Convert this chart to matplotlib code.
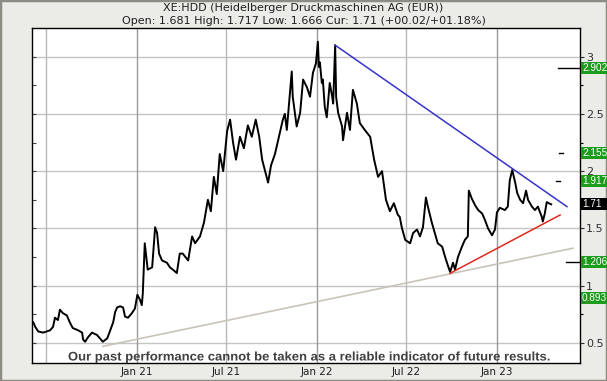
import matplotlib
matplotlib.use("Agg")
import matplotlib.pyplot as plt
from matplotlib.patches import Rectangle, PathPatch
from matplotlib.textpath import TextPath
from matplotlib.font_manager import FontProperties
from matplotlib.transforms import blended_transform_factory, Affine2D
import pandas as pd

# daily price trace
dates = [
    "2020-06-05", "2020-06-09", "2020-06-15", "2020-06-25", "2020-07-09", "2020-07-15",
    "2020-07-19", "2020-07-25", "2020-07-29", "2020-08-04", "2020-08-12", "2020-08-18",
    "2020-08-24", "2020-09-04", "2020-09-12", "2020-09-14", "2020-09-18", "2020-09-24",
    "2020-10-02", "2020-10-12", "2020-10-18", "2020-10-24", "2020-11-02", "2020-11-08",
    "2020-11-14", "2020-11-18", "2020-11-22", "2020-11-28", "2020-12-04", "2020-12-08",
    "2020-12-14", "2020-12-22", "2020-12-28", "2021-01-02", "2021-01-07", "2021-01-11",
    "2021-01-13", "2021-01-17", "2021-01-23", "2021-02-01", "2021-02-07", "2021-02-11",
    "2021-02-15", "2021-02-21", "2021-03-03", "2021-03-09", "2021-03-15", "2021-03-23",
    "2021-03-29", "2021-04-04", "2021-04-15", "2021-04-23", "2021-04-29", "2021-05-09",
    "2021-05-17", "2021-05-25", "2021-05-31", "2021-06-06", "2021-06-12", "2021-06-18",
    "2021-06-25", "2021-07-03", "2021-07-09", "2021-07-15", "2021-07-21", "2021-07-29",
    "2021-08-06", "2021-08-14", "2021-08-22", "2021-08-30", "2021-09-06", "2021-09-12",
    "2021-09-18", "2021-09-24", "2021-09-30", "2021-10-08", "2021-10-16", "2021-10-24",
    "2021-10-28", "2021-11-01", "2021-11-11", "2021-11-13", "2021-11-21", "2021-11-28",
    "2021-12-04", "2021-12-12", "2021-12-18", "2021-12-24", "2021-12-30", "2022-01-03",
    "2022-01-05", "2022-01-07", "2022-01-11", "2022-01-13", "2022-01-17", "2022-01-21",
    "2022-01-27", "2022-02-01", "2022-02-03", "2022-02-07", "2022-02-09", "2022-02-13",
    "2022-02-21", "2022-02-23", "2022-03-03", "2022-03-09", "2022-03-15", "2022-03-23",
    "2022-03-29", "2022-04-08", "2022-04-19", "2022-04-27", "2022-05-05", "2022-05-13",
    "2022-05-21", "2022-05-29", "2022-06-06", "2022-06-14", "2022-06-18", "2022-06-22",
    "2022-06-29", "2022-07-09", "2022-07-15", "2022-07-23", "2022-07-29", "2022-08-04",
    "2022-08-10", "2022-08-14", "2022-08-22", "2022-08-28", "2022-09-03", "2022-09-12",
    "2022-09-18", "2022-09-24", "2022-09-28", "2022-10-04", "2022-10-08", "2022-10-14",
    "2022-10-22", "2022-10-28", "2022-11-03", "2022-11-05", "2022-11-11", "2022-11-18",
    "2022-11-24", "2022-12-02", "2022-12-08", "2022-12-14", "2022-12-22", "2022-12-28",
    "2023-01-01", "2023-01-07", "2023-01-17", "2023-01-23", "2023-01-27", "2023-02-01",
    "2023-02-07", "2023-02-11", "2023-02-17", "2023-02-23", "2023-03-01", "2023-03-05",
    "2023-03-13", "2023-03-19", "2023-03-25", "2023-04-02", "2023-04-04", "2023-04-08",
    "2023-04-12", "2023-04-16", "2023-04-21",
]
prices = [
    0.68, 0.64, 0.60, 0.59, 0.61, 0.64,
    0.72, 0.70, 0.79, 0.76, 0.74, 0.68,
    0.63, 0.61, 0.59, 0.53, 0.51, 0.55,
    0.59, 0.57, 0.54, 0.51, 0.54, 0.61,
    0.68, 0.77, 0.81, 0.82, 0.81, 0.73,
    0.72, 0.76, 0.80, 0.92, 0.88, 0.83,
    0.93, 1.37, 1.14, 1.16, 1.51, 1.46,
    1.28, 1.22, 1.20, 1.16, 1.14, 1.11,
    1.28, 1.28, 1.22, 1.43, 1.37, 1.43,
    1.55, 1.75, 1.65, 1.95, 1.80, 2.15,
    2.00, 2.35, 2.45, 2.25, 2.10, 2.30,
    2.20, 2.40, 2.30, 2.45, 2.30, 2.10,
    2.00, 1.90, 2.05, 2.15, 2.30, 2.45,
    2.50, 2.36, 2.87, 2.65, 2.39, 2.51,
    2.80, 2.73, 2.65, 2.86, 2.94, 3.13,
    2.91, 2.95, 2.77, 2.80, 2.56, 2.47,
    2.77, 2.65, 2.59, 3.10, 2.65, 2.51,
    2.39, 2.27, 2.51, 2.36, 2.71, 2.59,
    2.42, 2.36, 2.30, 2.10, 1.95, 2.00,
    1.75, 1.65, 1.72, 1.62, 1.60, 1.51,
    1.40, 1.37, 1.46, 1.49, 1.43, 1.51,
    1.77, 1.69, 1.55, 1.46, 1.37, 1.34,
    1.25, 1.17, 1.12, 1.20, 1.14, 1.25,
    1.34, 1.40, 1.43, 1.83, 1.76, 1.70,
    1.66, 1.63, 1.57, 1.50, 1.44, 1.49,
    1.64, 1.68, 1.66, 1.69, 1.92, 2.01,
    1.90, 1.81, 1.75, 1.72, 1.83, 1.75,
    1.69, 1.66, 1.69, 1.60, 1.56, 1.63,
    1.73, 1.72, 1.71,
]

# trend lines (start, end)
blue_dates = ["2022-02-07", "2023-05-23"]
blue_vals = [3.10, 1.69]
red_dates = ["2022-09-28", "2023-05-09"]
red_vals = [1.108, 1.617]
grey_dates = ["2020-10-24", "2023-06-04"]
grey_vals = [0.47, 1.327]

# target levels on the right edge
box_levels = [2.902, 2.155, 1.917, 1.71, 1.206, 0.893]
box_labels = ["2.902", "2.155", "1.917", "1.71", "1.206", "0.893"]
box_colors = ["#1c9c1c", "#1c9c1c", "#1c9c1c", "#000000", "#1c9c1c", "#1c9c1c"]
dash_levels = [2.902, 2.155, 1.917, 1.206]
dash_starts = ["2023-05-04", "2023-05-06", "2023-05-01", "2023-05-20"]
dash_ends = ["2023-06-19", "2023-05-14", "2023-05-09", "2023-06-19"]

y_ticks = [0.5, 1, 1.5, 2, 2.5, 3]
y_ticklabels = ["0.5", "1", "1.5", "2", "2.5", "3"]
x_ticks = ["2021-01-01", "2021-07-01", "2022-01-01", "2022-07-01", "2023-01-01"]
x_ticklabels = ["Jan 21", "Jul 21", "Jan 22", "Jul 22", "Jan 23"]
jan_lines = ["2021-01-01", "2022-01-01", "2023-01-01"]
jul_lines = ["2020-07-01", "2021-07-01", "2022-07-01"]

title1 = "XE:HDD (Heidelberger Druckmaschinen AG (EUR))"
title2 = "Open: 1.681 High: 1.717 Low: 1.666 Cur: 1.71 (+00.02/+01.18%)"
disclaimer = "Our past performance cannot be taken as a reliable indicator of future results."

d = pd.to_datetime(dates)

fig = plt.figure(figsize=(6.07, 3.81), dpi=100)
fig.patch.set_facecolor("#ebebe7")
frame = Rectangle((0, 0), 1, 1, transform=fig.transFigure, fill=False,
                  edgecolor="#8c8c84", linewidth=2.5, zorder=-1)
fig.patches.append(frame)

ax = fig.add_axes([32.3 / 607, 1 - 363.3 / 381, (580.3 - 32.3) / 607, (363.3 - 28) / 381])
ax.set_facecolor("white")
ax.set_xlim(pd.Timestamp("2020-06-03"), pd.Timestamp("2023-06-19"))
ax.set_ylim(0.322, 3.25)

for v in y_ticks:
    ax.axhline(v, color="#c4c4c4", linewidth=1, zorder=1)
for t in jan_lines:
    ax.axvline(pd.Timestamp(t), color="#9a9a9a", linewidth=1, zorder=1)
for t in jul_lines:
    ax.axvline(pd.Timestamp(t), color="#b8b8b8", linewidth=1, zorder=1)

ax.plot(pd.to_datetime(grey_dates), grey_vals, color="#c8c4b8", linewidth=1.2, zorder=2)
ax.plot(d, prices, color="black", linewidth=1.4, zorder=3)
ax.plot(pd.to_datetime(blue_dates), blue_vals, color="#3535c8", linewidth=1.1, zorder=4)
ax.plot(pd.to_datetime(red_dates), red_vals, color="#e02a1e", linewidth=1.1, zorder=4)

for lv, s, e in zip(dash_levels, dash_starts, dash_ends):
    ax.plot([pd.Timestamp(s), pd.Timestamp(e)], [lv, lv], color="black", linewidth=1, zorder=4)

for sp in ax.spines.values():
    sp.set_color("black")
    sp.set_linewidth(1)

ax.set_xticks(pd.to_datetime(x_ticks))
ax.set_xticklabels(x_ticklabels)
ax.tick_params(axis="x", length=0, pad=3, labelsize=7.5, labelcolor="#202020")
ax.set_yticks([0.25 * i for i in range(2, 13)])
ax.set_yticklabels([])
ax.tick_params(axis="y", direction="in", length=3, width=0.8, colors="#404040")

ax2 = ax.twinx()
ax2.set_ylim(ax.get_ylim())
ax2.set_yticks(y_ticks)
ax2.set_yticklabels(y_ticklabels)
ax2.set_yticks([0.75, 1.25, 1.75, 2.25, 2.75], minor=True)
ax2.tick_params(axis="y", which="major", direction="out", length=3, width=0.8, pad=1,
                labelsize=8, labelcolor="#303030", colors="#303030")
ax2.tick_params(axis="y", which="minor", direction="out", length=2, width=0.8)
for sp in ax2.spines.values():
    sp.set_visible(False)

# level boxes sit on ax2 so they cover the right-hand tick labels
tr = blended_transform_factory(fig.transFigure, ax2.transData)
bh = 12 / 114.5
for lv, lab, col in zip(box_levels, box_labels, box_colors):
    ax2.add_patch(Rectangle((581 / 607, lv - bh / 2), 30 / 607, bh, transform=tr,
                            facecolor=col, edgecolor="none", clip_on=False, zorder=10))
    ax2.text(582 / 607, lv, lab, transform=tr, color="white", fontsize=7.2,
             family=["Liberation Sans", "DejaVu Sans"],
             va="center", ha="left", clip_on=False, zorder=11)

fig.text(0.5, 1 - 8 / 381, title1, ha="center", va="center", fontsize=8, color="#202020")
fig.text(0.5, 1 - 21 / 381, title2, ha="center", va="center", fontsize=8, color="#202020")

# disclaimer in a condensed bold face: squeeze a bold path to the width in the picture
tp = TextPath((0, 0), disclaimer, size=12.5,
              prop=FontProperties(family=["Liberation Sans", "DejaVu Sans"], weight="bold"))
ext = tp.get_extents()
sx = 481 / ext.width
cx, cy = 309, 381 - 356
squeeze = Affine2D().translate(-(ext.x0 + ext.width / 2), -4.5).scale(sx, 1).translate(cx, cy)
fig.patches.append(PathPatch(tp, transform=squeeze, facecolor="#404040", edgecolor="none",
                             zorder=6))

fig.savefig("out.png", dpi=100, facecolor=fig.get_facecolor())
